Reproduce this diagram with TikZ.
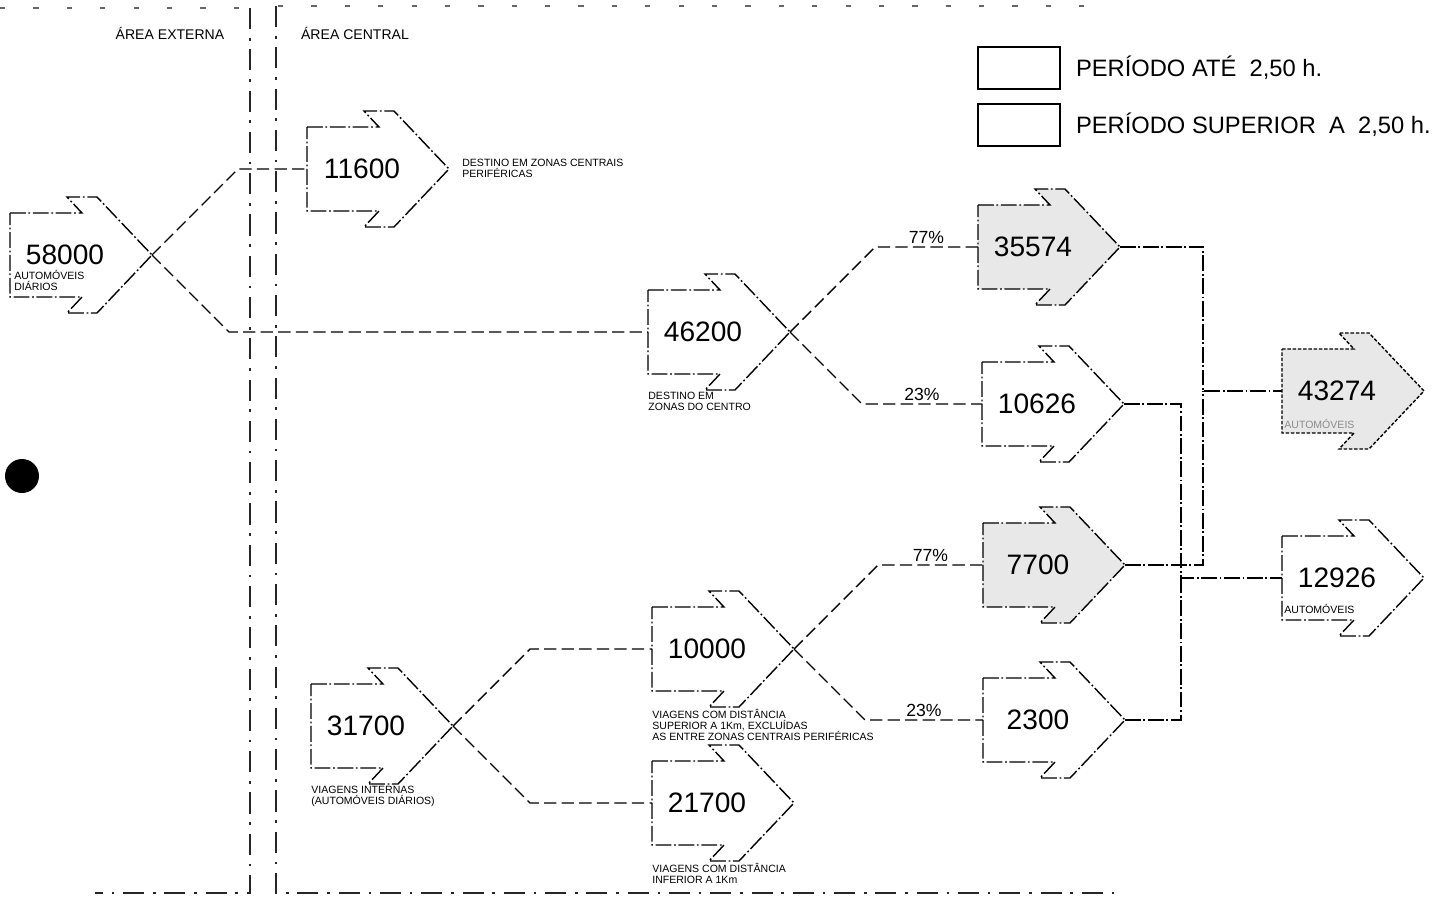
\documentclass[tikz,border=0pt]{standalone}
\usepackage{fontspec}
\setmainfont{Liberation Sans}
\usetikzlibrary{positioning,calc}

\tikzset{
  pics/flowarrow/.style 2 args={code={
    \draw[arrowline,#1] (0,-42) -- (72,-42) -- (57,-58) -- (87,-58) -- (142,0)
      -- (87,58) -- (57,58) -- (72,42) -- (0,42) -- cycle;
    \coordinate (-in) at (0,0);
    \coordinate (-tip) at (142,0);
    \coordinate (-foot) at (0,60);
    \node[num] (-val) at (55,0) {#2};
  }},
}

\begin{document}
\begin{tikzpicture}[x=0.02cm,y=-0.02cm]
    \tikzset{arrowline/.style={line width=0.8pt,line join=miter,dash pattern=on 9pt off 1.5pt on 1pt off 1.5pt},
      plain/.style={fill=white},
      shaded/.style={fill=black!9},
      num/.style={font=\fontsize{16}{18}\selectfont,inner sep=0pt},
      note/.style={font=\fontsize{6}{6.2}\selectfont,align=left,inner sep=0pt},
      pct/.style={font=\fontsize{10}{12}\selectfont,above,inner sep=1.5pt,midway},
      link/.style={line width=0.8pt,dash pattern=on 7pt off 3pt},
      split/.style={to path={let \p1=(\tikztostart), \p2=(\tikztotarget) in
        -- ({\x1+abs(\y2-\y1)},\y2) -- (\tikztotarget) \tikztonodes}},
      joinline/.style={line width=0.8pt,dash pattern=on 9pt off 1.5pt on 1pt off 1.5pt},
      border/.style={line width=0.6pt,black!85,dash pattern=on 12pt off 5pt on 1.5pt off 5pt},
      faintedge/.style={line width=0.6pt,black!60,dash pattern=on 3pt off 16pt},
      area/.style={font=\fontsize{8}{9}\selectfont,inner sep=0pt},
      legbox/.style={draw,line width=0.8pt,minimum width=1.64cm,minimum height=0.84cm,inner sep=0pt},
      legtext/.style={font=\fontsize{13.5}{15}\selectfont,inner sep=0pt}}
    \useasboundingbox (0,0) rectangle (1434,899);

    % area borders
    \draw[faintedge] (0,8) -- (248,8);
    \draw[faintedge] (278,6) -- (1100,6);
    \draw[border] (250,8) -- (250,893) -- (95,893);
    \draw[border] (276,6) -- (276,893) -- (1120,893);
    \node[area] (ext) at (170,33) {ÁREA EXTERNA};
    \node[area] (cent) at (355,33) {ÁREA CENTRAL};
    \fill (22,476) circle (17);

    % legend
    \node[legbox] (k1) at (1019,68) {};
    \node[legtext,right=0.3cm of k1] (k1t) {PERÍODO ATÉ~~2,50 h.};
    \node[legbox] (k2) at (1019,125) {};
    \node[legtext,right=0.3cm of k2] (k2t) {PERÍODO SUPERIOR~~A~~2,50 h.};

    % arrows
    \pic (n58) at (10,255) {flowarrow={plain}{58000}};
    \pic (n116) at (307,169) {flowarrow={plain}{11600}};
    \pic (n462) at (648,332) {flowarrow={plain}{46200}};
    \pic (n355) at (978,247) {flowarrow={shaded}{35574}};
    \pic (n106) at (982,404) {flowarrow={plain}{10626}};
    \pic (n77) at (983,565) {flowarrow={shaded}{7700}};
    \pic (n23) at (983,720) {flowarrow={plain}{2300}};
    \pic (n432) at (1282,391) {flowarrow={shaded,dash pattern=on 2pt off 1pt}{43274}};
    \pic (n129) at (1282,578) {flowarrow={plain}{12926}};
    \pic (n317) at (311,726) {flowarrow={plain}{31700}};
    \pic (n100) at (652,649) {flowarrow={plain}{10000}};
    \pic (n217) at (652,803) {flowarrow={plain}{21700}};

    % captions
    \node[note,anchor=north west] (t58) at ($(n58-in)+(4,15)$) {AUTOMÓVEIS\\DIÁRIOS};
    \node[note,anchor=west] (t116) at ($(n116-tip)+(13,-1)$) {DESTINO EM ZONAS CENTRAIS\\PERIFÉRICAS};
    \node[note,anchor=north west] (t462) at (n462-foot) {DESTINO EM\\ZONAS DO CENTRO};
    \node[note,anchor=north west,text=black!45] (t432) at ($(n432-in)+(2,28)$) {AUTOMÓVEIS};
    \node[note,anchor=north west] (t129) at ($(n129-in)+(2,26)$) {AUTOMÓVEIS};
    \node[note,anchor=north west] (t317) at (n317-foot) {VIAGENS INTERNAS\\(AUTOMÓVEIS DIÁRIOS)};
    \node[note,anchor=north west] (t100) at (n100-foot) {VIAGENS COM DISTÂNCIA\\SUPERIOR A 1Km, EXCLUÍDAS\\AS ENTRE ZONAS CENTRAIS PERIFÉRICAS};
    \node[note,anchor=north west] (t217) at (n217-foot) {VIAGENS COM DISTÂNCIA\\INFERIOR A 1Km};

    % splits
    \draw[link] (n58-tip) to[split] (n116-in);
    \draw[link] (n58-tip) to[split] (n462-in);
    \draw[link] (n462-tip) to[split] node[pct] {77\%} (n355-in);
    \draw[link] (n462-tip) to[split] node[pct] {23\%} (n106-in);
    \draw[link] (n317-tip) to[split] (n100-in);
    \draw[link] (n317-tip) to[split] (n217-in);
    \draw[link] (n100-tip) to[split] node[pct] {77\%} (n77-in);
    \draw[link] (n100-tip) to[split] node[pct] {23\%} (n23-in);

    % sums
    \coordinate (jA) at (1203,391);
    \coordinate (jB) at (1181,578);
    \draw[joinline] (n355-tip) -| (jA) -- (n432-in);
    \draw[joinline] (n77-tip) -| (jA);
    \draw[joinline] (n106-tip) -| (jB) -- (n129-in);
    \draw[joinline] (n23-tip) -| (jB);
  \end{tikzpicture}
\end{document}
